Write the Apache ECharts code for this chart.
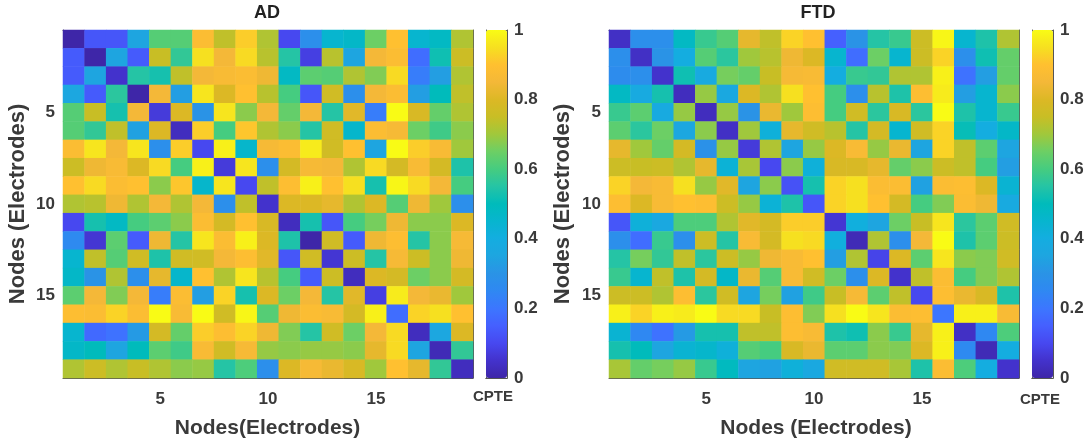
<!DOCTYPE html>
<html><head><meta charset="utf-8">
<script src="https://cdn.jsdelivr.net/npm/echarts@6/dist/echarts.min.js"></script>
<style>html,body{margin:0;padding:0;background:#fff}#c{width:1091px;height:445px}</style></head>
<body><div id="c"></div>
<script>
var nodes=['1','2','3','4','5','6','7','8','9','10','11','12','13','14','15','16','17','18','19'];
var colorTicks=[0,0.2,0.4,0.6,0.8,1];
var palette=['#3e26a8','#4332cc','#4748f0','#4560ff','#3c76ff','#2f88f2','#2a93e6','#1ea5e0','#14ade0','#07b5cf','#00bbbb','#25c4a5','#45cc80','#6ccf65','#a0c83c','#c8be25','#dcb825','#f4b838','#ffc030','#f6e020','#f9fb15'];
var adMatrix=[
[0,.13,.13,.35,.62,.62,.88,.74,.92,.72,.1,.28,.45,.47,.65,.9,.45,.48,.72],
[.14,0,.35,.14,.75,.57,.95,.85,.94,.73,.55,.08,.73,.35,.85,.88,.18,.52,.76],
[.14,.35,.05,.55,.53,.74,.85,.87,.88,.84,.48,.63,.62,.72,.67,.94,.22,.33,.72],
[.36,.14,.56,0,.85,.33,.96,.8,.9,.73,.6,.13,.77,.28,.85,.88,.33,.5,.74],
[.62,.75,.53,.85,.07,.8,.3,.96,.68,.85,.64,.85,.55,.81,.22,1,.79,.64,.72],
[.62,.57,.74,.34,.8,.03,.92,.6,.91,.72,.68,.55,.77,.46,.88,.86,.65,.59,.68],
[.88,.96,.85,.96,.28,.92,.1,.98,.46,.86,.88,.97,.77,.9,.35,1,.92,.87,.7],
[.76,.84,.87,.8,.94,.6,.98,.07,.96,.28,.78,.86,.85,.72,.94,.78,.87,.78,.54],
[.9,.94,.88,.9,.68,.91,.46,.96,.1,.74,.89,.98,.9,.95,.53,.99,.94,.85,.6],
[.72,.73,.84,.72,.85,.72,.85,.28,.74,.05,.8,.8,.82,.72,.8,.62,.84,.7,.28],
[.1,.53,.48,.6,.63,.68,.88,.78,.9,.79,.03,.53,.13,.6,.66,.84,.68,.68,.8],
[.26,.06,.63,.14,.84,.55,.96,.88,.98,.8,.54,0,.77,.14,.84,.89,.55,.68,.86],
[.45,.74,.62,.77,.54,.77,.77,.85,.89,.81,.13,.77,.06,.76,.55,.86,.76,.68,.84],
[.47,.3,.72,.28,.82,.46,.9,.72,.96,.73,.6,.14,.76,.03,.8,.78,.65,.68,.78],
[.63,.85,.67,.85,.22,.88,.33,.93,.53,.8,.65,.85,.55,.81,.08,.97,.85,.83,.7],
[.89,.88,.93,.88,1,.87,1,.77,.99,.62,.84,.88,.87,.78,.98,.18,.93,.95,.9],
[.45,.17,.19,.32,.78,.64,.92,.89,.93,.84,.67,.55,.77,.65,.85,.94,.03,.36,.8],
[.47,.5,.35,.5,.63,.59,.87,.77,.86,.69,.68,.69,.69,.68,.82,.94,.35,.02,.57],
[.72,.76,.72,.75,.72,.68,.69,.55,.61,.28,.8,.86,.83,.79,.7,.9,.82,.57,.03]];
var ftdMatrix=[
[.04,.28,.28,.48,.58,.62,.82,.74,.93,.9,.15,.3,.55,.58,.76,.99,.45,.54,.72],
[.28,.04,.3,.4,.62,.56,.7,.73,.84,.8,.45,.18,.65,.45,.76,.93,.28,.52,.64],
[.27,.28,.05,.52,.38,.66,.64,.75,.86,.87,.4,.58,.57,.72,.72,.98,.19,.33,.64],
[.48,.38,.53,.03,.69,.37,.8,.72,.95,.9,.6,.28,.73,.54,.89,.97,.33,.45,.68],
[.58,.63,.38,.69,.03,.69,.3,.83,.7,.89,.6,.77,.56,.79,.56,1,.54,.45,.58],
[.63,.56,.65,.36,.68,.04,.7,.42,.82,.77,.73,.55,.78,.45,.77,.93,.51,.4,.47],
[.82,.7,.64,.78,.29,.69,.07,.72,.35,.69,.8,.87,.69,.83,.35,.93,.74,.63,.35],
[.76,.75,.76,.72,.82,.43,.71,.1,.68,.42,.79,.79,.82,.64,.68,.76,.74,.6,.33],
[.93,.85,.87,.95,.69,.81,.35,.68,.12,.53,.93,.95,.88,.88,.34,.88,.89,.8,.44],
[.89,.8,.87,.9,.89,.76,.69,.43,.54,.13,.93,.95,.9,.78,.6,.67,.88,.84,.38],
[.13,.42,.37,.61,.61,.72,.81,.78,.92,.92,.06,.41,.35,.65,.75,.96,.56,.63,.77],
[.28,.18,.58,.28,.76,.55,.87,.78,.95,.94,.41,.02,.72,.28,.85,1,.54,.63,.76],
[.55,.66,.57,.74,.56,.76,.69,.84,.87,.9,.33,.72,.09,.8,.63,.96,.68,.67,.77],
[.58,.45,.74,.54,.78,.47,.83,.62,.87,.77,.65,.28,.8,.05,.74,.88,.6,.67,.72],
[.76,.76,.72,.89,.56,.77,.35,.66,.34,.59,.75,.86,.63,.74,.1,.89,.83,.79,.54],
[.98,.93,.98,.97,1,.94,.94,.75,.89,.67,.95,1,.96,.88,.89,.2,.98,.98,.87],
[.44,.25,.19,.32,.53,.53,.74,.74,.89,.87,.54,.52,.68,.58,.82,.98,.04,.25,.61],
[.53,.5,.35,.44,.46,.42,.62,.6,.79,.83,.63,.63,.68,.67,.8,.98,.26,.02,.4],
[.71,.64,.66,.69,.58,.49,.35,.34,.42,.37,.77,.77,.77,.71,.54,.88,.61,.4,.05]];

var FONT='"Liberation Sans",Arial,sans-serif', INK='#3a3a3a', LINE='#555555';
function every5(i){return (i+1)%5===0;}
function toCells(m){var o=[];m.forEach(function(r,y){r.forEach(function(v,x){o.push([x,y,v]);});});return o;}

var panels=[
 {title:'AD',xName:'Nodes(Electrodes)',m:adMatrix,left:63,cb:486,cpte:[494,397],titleX:267,yNameLeft:18},
 {title:'FTD',xName:'Nodes (Electrodes)',m:ftdMatrix,left:609,cb:1032,cpte:[1041,400],titleX:818,yNameLeft:563}
];
var opt={animation:false,backgroundColor:'#fff',title:[],grid:[],xAxis:[],yAxis:[],visualMap:[],series:[],graphic:[]};
var W=410,H=348,T=30;
panels.forEach(function(p,k){
  var g=k*2;
  opt.title.push({text:p.title,left:p.titleX,top:4,textAlign:'center',padding:0,
    textStyle:{fontFamily:FONT,fontWeight:'bold',fontSize:18,color:'#222'}});
  opt.grid.push({left:p.left,top:T,width:W,height:H,show:false,containLabel:false});
  opt.grid.push({left:p.cb,top:T,width:21,height:H,show:false,containLabel:false});
  var axLine={show:true,lineStyle:{color:LINE,width:1}};
  var tick={show:true,inside:true,length:3,alignWithLabel:true,interval:every5,lineStyle:{color:LINE}};
  var lab={show:true,interval:every5,margin:13,fontFamily:FONT,fontWeight:'bold',fontSize:17,color:INK};
  opt.xAxis.push({type:'category',gridIndex:g,data:nodes,position:'bottom',name:p.xName,nameLocation:'middle',nameGap:40,
    nameTextStyle:{fontFamily:FONT,fontWeight:'bold',fontSize:21,color:INK,padding:[0,0,0,p.titleX-p.left-W/2]},axisLine:axLine,axisTick:tick,axisLabel:lab,splitLine:{show:false},splitArea:{show:false}});
  opt.yAxis.push({type:'category',gridIndex:g,data:nodes,inverse:true,position:'left',name:'Nodes (Electrodes)',nameLocation:'middle',nameGap:p.left-p.yNameLeft-11,
    nameTextStyle:{fontFamily:FONT,fontWeight:'bold',fontSize:22,color:INK},axisLine:axLine,axisTick:tick,axisLabel:Object.assign({},lab,{margin:8,padding:[3,0,0,0]}),splitLine:{show:false},splitArea:{show:false}});
  opt.xAxis.push({type:'category',gridIndex:g+1,data:[''],position:'bottom',axisLine:axLine,axisTick:{show:false},axisLabel:{show:false}});
  opt.yAxis.push({type:'value',gridIndex:g+1,min:0,max:1,interval:0.2,position:'right',axisLine:axLine,
    axisTick:{show:true,inside:true,length:3,lineStyle:{color:LINE}},splitLine:{show:false},
    axisLabel:{show:true,margin:7,fontFamily:FONT,fontWeight:'bold',fontSize:17,color:INK,
      formatter:function(v){return colorTicks.indexOf(+v.toFixed(1))>=0?String(+v.toFixed(1)):'';}}});
  opt.series.push({type:'heatmap',xAxisIndex:k===0?0:2,yAxisIndex:k===0?0:2,data:toCells(p.m),itemStyle:{borderWidth:0},emphasis:{disabled:true},progressive:0});
  opt.visualMap.push({type:'continuous',seriesIndex:k,min:0,max:1,left:p.cb,top:T,itemWidth:21,itemHeight:H,padding:0,
    orient:'vertical',text:null,showLabel:false,calculable:false,hoverLink:false,z:1,inRange:{color:palette}});
  opt.graphic.push({type:'text',left:p.cpte[0]-21,top:p.cpte[1]-8,style:{text:'CPTE',fontFamily:FONT,fontWeight:'bold',fontSize:15,fill:INK}});
});
// top and right frame of each heatmap
[0,1].forEach(function(k){
  var g=k*2;
  opt.xAxis.push({type:'category',gridIndex:g,data:nodes,position:'top',axisLine:{show:true,lineStyle:{color:LINE}},
    axisTick:{show:true,inside:true,length:3,alignWithLabel:true,interval:every5,lineStyle:{color:LINE}},axisLabel:{show:false}});
  opt.yAxis.push({type:'category',gridIndex:g,data:nodes,inverse:true,position:'right',axisLine:{show:true,lineStyle:{color:LINE}},
    axisTick:{show:true,inside:true,length:3,alignWithLabel:true,interval:every5,lineStyle:{color:LINE}},axisLabel:{show:false}});
  opt.xAxis.push({type:'category',gridIndex:g+1,data:[''],position:'top',axisLine:{show:true,lineStyle:{color:LINE}},axisTick:{show:false},axisLabel:{show:false}});
  opt.yAxis.push({type:'value',gridIndex:g+1,min:0,max:1,interval:0.2,position:'left',axisLine:{show:true,lineStyle:{color:LINE}},axisTick:{show:false},axisLabel:{show:false},splitLine:{show:false}});
});
var chart=echarts.init(document.getElementById('c'),null,{renderer:'canvas'});
chart.setOption(opt);
</script></body></html>
